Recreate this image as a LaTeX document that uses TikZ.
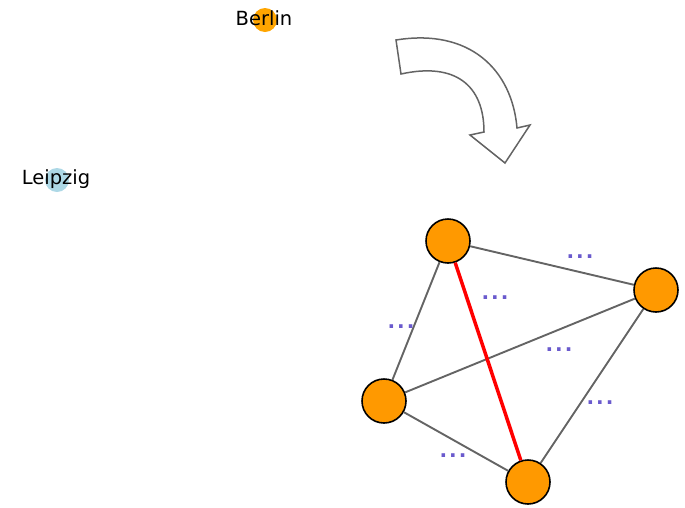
\documentclass[tikz,border=0pt]{standalone}
\usepackage{fontspec}
\setmainfont{DejaVu Sans}
\usepackage{xcolor}
\usetikzlibrary{calc}

\definecolor{cityorange}{RGB}{255,165,0}
\definecolor{cityblue}{RGB}{173,216,230}
\definecolor{vertexorange}{RGB}{255,153,0}
\definecolor{edgegray}{RGB}{100,100,100}
\definecolor{dotblue}{RGB}{106,90,205}

% three spread dots standing for an unknown weight
\newcommand{\wdots}{.\kern2pt.\kern2pt.}

\tikzset{
	vertex/.style = {circle, draw = black, line width = 1.6pt, fill = vertexorange, minimum size = 44pt, inner sep = 0pt},
	edge/.style = {draw = edgegray, line width = 1.9pt},
	weight/.style = {text = dotblue, font = \fontsize{20}{20}\bfseries\selectfont, inner sep = 0pt},
	city/.style = {font = \fontsize{19.5}{20}\selectfont, inner sep = 0pt}
}

\begin{document}
\begin{tikzpicture}[x = 1pt, y = -1pt]
			\useasboundingbox (0,0) rectangle (685,507);

			% map with two cities
			\begin{scope}
				\fill [cityorange] (265,20) circle (12);
				\node [city] (berlin) at (264,18) {Berlin};

				\fill [cityblue] (57,180) circle (12);
				\node [city] (leipzig) at (56,179) {Leipzig};
			\end{scope}

			% curved block arrow
			\begin{scope}
				\draw [edgegray, line width = 1.5pt, fill = white, line join = miter]
					(396,40) .. controls (470,28) and (512,70) .. (517,128)
					-- (530,125) -- (505,163) -- (470,135) -- (484,132)
					.. controls (484,85) and (455,62) .. (401,74) -- cycle;
			\end{scope}

			% complete graph on four vertices
			\begin{scope}
				\node [vertex] (top) at (448,241) {};
				\node [vertex] (right) at (656,290) {};
				\node [vertex] (left) at (384,401) {};
				\node [vertex] (bottom) at (528,482) {};

				\draw [edge] (top) -- (right);
				\draw [edge] (top) -- (left);
				\draw [edge] (left) -- (right);
				\draw [edge] (right) -- (bottom);
				\draw [edge] (left) -- (bottom);
				\draw [red, line width = 3.5pt] (top) -- (bottom);

				\node [weight] (wTR) at (580,257) {\wdots};
				\node [weight] (wTB) at (495,297.5) {\wdots};
				\node [weight] (wTL) at (401,326.5) {\wdots};
				\node [weight] (wLR) at (559,350) {\wdots};
				\node [weight] (wRB) at (600,402.5) {\wdots};
				\node [weight] (wLB) at (453,455.5) {\wdots};
			\end{scope}
		\end{tikzpicture}
\end{document}
